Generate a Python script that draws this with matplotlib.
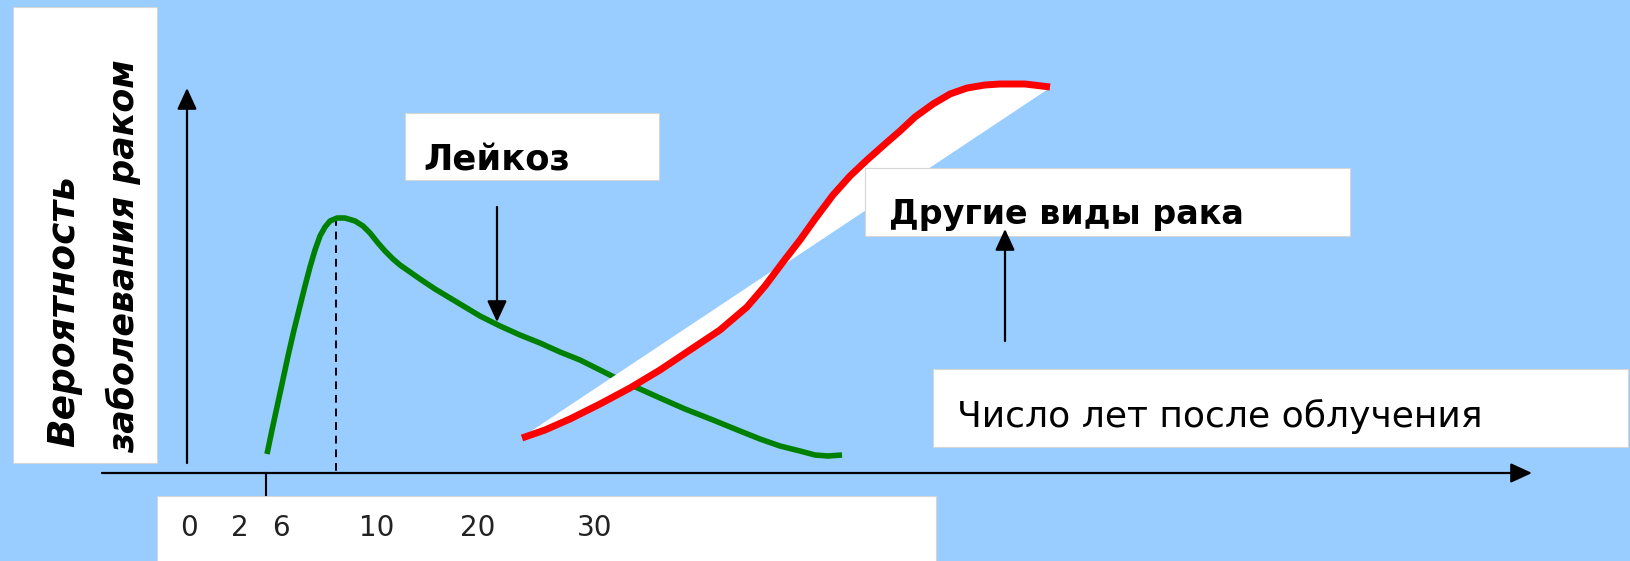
import matplotlib
matplotlib.use('Agg')
import matplotlib.pyplot as plt
from matplotlib.patches import Rectangle

# схема в пиксельных координатах (0..1631 x 0..561, ось y вниз)
# кривая лейкоза
leuk_x = [267, 272, 277, 282, 288, 294, 300, 305, 310, 315, 320, 325, 330, 337, 345,
          355, 363, 370, 378, 385, 393, 400, 410, 420, 435, 450, 465, 480, 500, 520,
          540, 560, 580, 600, 620, 640, 660, 685, 713, 740, 760, 780, 800, 815, 828, 842]
leuk_y = [454, 430, 407, 384, 356, 330, 306, 286, 267, 250, 236, 227, 221, 218, 218,
          221, 226, 233, 243, 251, 259, 265, 272, 279, 289, 298, 307, 316, 326, 335,
          343, 352, 360, 370, 380, 389, 398, 409, 420, 431, 439, 446, 451, 455, 456, 455]

# другие виды рака
other_x = [522, 545, 570, 600, 630, 660, 690, 720, 747, 765, 783, 800, 815, 833, 850,
           867, 885, 900, 915, 933, 950, 967, 985, 1000, 1025, 1050]
other_y = [438, 430, 419, 404, 388, 370, 350, 330, 307, 286, 262, 240, 219, 195, 176,
           160, 144, 131, 117, 104, 94, 88, 85, 84, 84, 87]

tick_labels = ['0', '2', '6', '10', '20', '30']
tick_x = [189, 240, 281, 377, 478, 595]

ylabel1 = 'Вероятность'
ylabel2 = 'заболевания раком'
label_leuk = 'Лейкоз'
label_other = 'Другие виды рака'
label_xaxis = 'Число лет после облучения'

W, H = 1631, 561
bg = '#99CCFF'

fig = plt.figure(figsize=(W / 100, H / 100), dpi=100)
fig.patch.set_facecolor(bg)
ax = fig.add_axes([0, 0, 1, 1])
ax.set_xlim(0, W)
ax.set_ylim(H, 0)
ax.axis('off')
ax.set_facecolor(bg)


def box(x0, y0, x1, y1, z=1):
    ax.add_patch(Rectangle((x0, y0), x1 - x0, y1 - y0, facecolor='white',
                           edgecolor='#d6d6d6', lw=0.8, zorder=z))


def arrow(x0, y0, x1, y1):
    ax.annotate('', xy=(x1, y1), xytext=(x0, y0),
                arrowprops=dict(arrowstyle='-|>,head_length=0.65,head_width=0.3',
                                mutation_scale=20, color='black', lw=1.6,
                                shrinkA=0, shrinkB=0), zorder=5)


# белые плашки
box(13, 7, 157, 463)
box(157, 496, 936, 575)
box(405, 113, 659, 180)
box(933, 369, 1628, 447)

# оси
arrow(187, 463, 187, 88)
arrow(102, 473, 1532, 473)
ax.plot([266, 266], [473, 495], color='black', lw=1.5, zorder=4)
ax.plot([336, 336], [218, 473], color='black', lw=1.4, ls=(0, (4, 3)), zorder=2)

# кривые
ax.plot(leuk_x, leuk_y, color='#008000', lw=4, solid_capstyle='butt',
        solid_joinstyle='round', zorder=3)
ax.fill(other_x, other_y, color='white', zorder=4)
box(865, 168, 1350, 236, z=4)
ax.plot(other_x, other_y, color='#FF0000', lw=5, solid_capstyle='butt',
        solid_joinstyle='round', zorder=6)

# стрелки-указатели
arrow(497, 207, 497, 322)
arrow(1005, 341, 1005, 229)

# подписи
ax.text(64, 311, ylabel1, rotation=90, ha='center', va='center', fontsize=27,
        fontstyle='italic', fontweight='bold', zorder=7)
ax.text(123, 256, ylabel2, rotation=90, ha='center', va='center', fontsize=25,
        fontstyle='italic', fontweight='bold', zorder=7)
ax.text(423, 160, label_leuk, ha='left', va='center', fontsize=25.5,
        fontweight='bold', zorder=7)
ax.text(889, 214, label_other, ha='left', va='center', fontsize=24,
        fontweight='bold', zorder=7)
ax.text(957, 416, label_xaxis, ha='left', va='center', fontsize=26, zorder=7)

for lab, x in zip(tick_labels, tick_x):
    ax.text(x, 528, lab, ha='center', va='center', fontsize=20, color='#222222', zorder=7)

fig.savefig('out.png', dpi=100, facecolor=bg)
